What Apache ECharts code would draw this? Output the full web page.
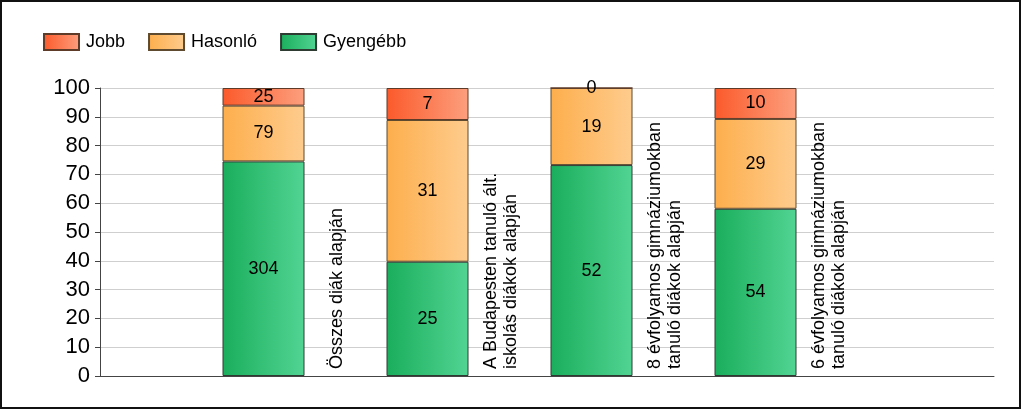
<!DOCTYPE html>
<html>
<head>
<meta charset="utf-8">
<script src="https://cdn.jsdelivr.net/npm/echarts@6/dist/echarts.min.js"></script>
<style>
html, body { margin: 0; padding: 0; background: #fff; }
#chart { width: 1024px; height: 410px; }
#frame { position: absolute; left: 0; top: 0; width: 1021px; height: 409px; box-sizing: border-box; border: 2px solid #111; pointer-events: none; }
</style>
</head>
<body>
<div id="chart"></div>
<div id="frame"></div>
<script>
const categories = [
  'Összes diák alapján',
  'A Budapesten tanuló ált.\niskolás diákok alapján',
  '8 évfolyamos gimnáziumokban\ntanuló diákok alapján',
  '6 évfolyamos gimnáziumokban\ntanuló diákok alapján'
];
const seriesNames = ['Jobb', 'Hasonló', 'Gyengébb'];
const jobb = [25, 7, 0, 10];
const hasonlo = [79, 31, 19, 29];
const gyengebb = [304, 25, 52, 54];
const yMin = 0, yMax = 100, yStep = 10;

const totals = categories.map((c, i) => jobb[i] + hasonlo[i] + gyengebb[i]);
function toItems(arr) {
  return arr.map((v, i) => ({ value: v / totals[i] * 100, count: v }));
}
function grad(a, b) {
  return new echarts.graphic.LinearGradient(0, 0, 1, 0, [
    { offset: 0, color: a }, { offset: 1, color: b }
  ]);
}
const FONT = '"Liberation Sans", Arial, sans-serif';
const labelCfg = {
  show: true, position: 'inside', color: '#000', fontSize: 18, fontFamily: FONT,
  formatter: p => String(p.data.count)
};
const chart = echarts.init(document.getElementById('chart'), null, { renderer: 'canvas' });
chart.setOption({
  animation: false,
  backgroundColor: '#fff',
  textStyle: { fontFamily: FONT },
  legend: {
    data: seriesNames,
    left: 43, top: 33, padding: 0,
    icon: 'rect',
    itemWidth: 35, itemHeight: 16, itemGap: 23,
    textStyle: { fontSize: 18, color: '#000', fontFamily: FONT, padding: [0, 0, 0, 2] }
  },
  grid: [
    { left: 100, right: 30, top: 88, bottom: 34 },
    { left: 181.5, width: 656, top: 88, bottom: 34 }
  ],
  xAxis: [
    { gridIndex: 0, type: 'category', data: [''],
      axisLine: { show: true, lineStyle: { color: '#444', width: 1 } },
      axisTick: { show: false }, axisLabel: { show: false } },
    { gridIndex: 1, type: 'category', data: categories,
      axisLine: { show: false }, axisTick: { show: false },
      axisLabel: { show: false } }
  ],
  yAxis: [
    { gridIndex: 0, type: 'value', min: yMin, max: yMax, interval: yStep,
      axisLine: { show: true, lineStyle: { color: '#444' } },
      axisTick: { show: true, length: 5, lineStyle: { color: '#444' } },
      axisLabel: { fontSize: 22, color: '#000', margin: 10, fontFamily: FONT },
      splitLine: { show: true, lineStyle: { color: '#cfcfcf', width: 1 } } },
    { gridIndex: 1, type: 'value', min: yMin, max: yMax, interval: yStep, show: false,
      splitLine: { show: false } }
  ],
  series: [
    { name: 'Gyengébb', type: 'bar', stack: 's', xAxisIndex: 1, yAxisIndex: 1, barWidth: 82,
      itemStyle: { color: grad('#1aae5c', '#52d493'), borderColor: '#2e3b33', borderWidth: 1 },
      label: labelCfg, data: toItems(gyengebb) },
    { name: 'Hasonló', type: 'bar', stack: 's', xAxisIndex: 1, yAxisIndex: 1, barWidth: 82,
      itemStyle: { color: grad('#fdae4c', '#fecc8e'), borderColor: '#5e4a2e', borderWidth: 1 },
      label: labelCfg, data: toItems(hasonlo) },
    { name: 'Jobb', type: 'bar', stack: 's', xAxisIndex: 1, yAxisIndex: 1, barWidth: 82,
      itemStyle: { color: grad('#fb5a2b', '#fc9f7e'), borderColor: '#5e3a28', borderWidth: 1 },
      label: labelCfg, data: toItems(jobb) },
    { name: 'categoryLabels', type: 'bar', stack: 'lbl', xAxisIndex: 1, yAxisIndex: 1,
      barWidth: 82, barGap: '-100%', silent: true, z: 5,
      itemStyle: { color: 'rgba(0,0,0,0)', borderWidth: 0 },
      label: {
        show: true, position: 'insideBottom', distance: 0,
        offset: [7, 74], rotate: 90, align: 'left', verticalAlign: 'middle',
        fontSize: 18, lineHeight: 20, color: '#000', fontFamily: FONT,
        formatter: p => categories[p.dataIndex]
      },
      data: categories.map(() => 0) }
  ]
});
</script>
</body>
</html>
